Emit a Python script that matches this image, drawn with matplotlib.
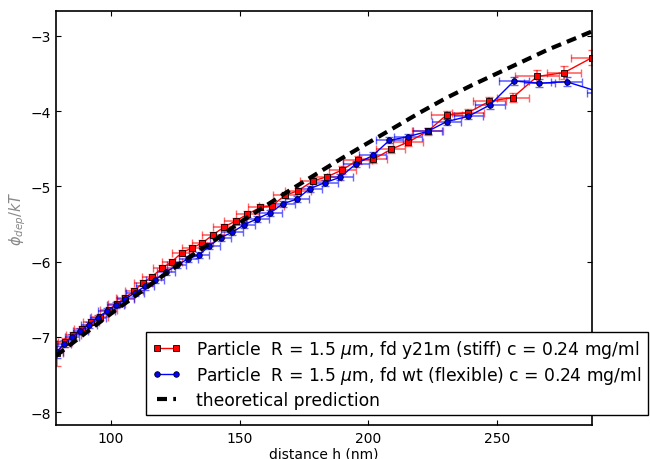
import matplotlib
matplotlib.use('Agg')
import matplotlib.pyplot as plt

# stiff fd (y21m), red squares
h_stiff = [79.0, 82.1, 85.3, 88.6, 92.2, 95.5, 99.0, 102.2, 105.4, 108.9,
           112.3, 115.8, 119.7, 123.6, 127.5, 131.4, 135.5, 139.7, 143.9, 148.4,
           153.0, 157.9, 162.4, 167.6, 172.5, 178.4, 184.1, 189.9, 195.8, 201.9,
           208.7, 215.5, 223.0, 230.4, 238.8, 247.0, 256.1, 265.6, 276.0, 286.9]
phi_stiff = [-7.22, -7.07, -6.98, -6.89, -6.80, -6.73, -6.64, -6.56, -6.48, -6.39,
             -6.28, -6.20, -6.09, -6.00, -5.88, -5.82, -5.75, -5.64, -5.54, -5.46,
             -5.37, -5.28, -5.26, -5.12, -5.06, -4.93, -4.87, -4.78, -4.65, -4.64,
             -4.51, -4.41, -4.27, -4.05, -4.02, -3.87, -3.82, -3.54, -3.49, -3.29]
herr_stiff = [2.5, 2.8, 3.0, 3.0, 3.2, 3.2, 3.3, 3.3, 3.4, 3.5,
              3.5, 3.6, 3.6, 3.8, 3.8, 4.0, 4.0, 4.2, 4.3, 4.5,
              4.5, 4.6, 4.8, 4.8, 5.0, 5.0, 5.2, 5.3, 5.5, 5.5,
              5.7, 5.8, 6.0, 6.0, 6.2, 6.3, 6.3, 8.5, 6.5, 8.0]
perr_stiff = [0.17, 0.06, 0.05, 0.04, 0.04, 0.04, 0.04, 0.04, 0.04, 0.04,
              0.04, 0.04, 0.04, 0.04, 0.04, 0.04, 0.04, 0.04, 0.04, 0.04,
              0.04, 0.04, 0.04, 0.04, 0.04, 0.04, 0.04, 0.05, 0.05, 0.05,
              0.05, 0.05, 0.05, 0.05, 0.05, 0.06, 0.06, 0.08, 0.09, 0.10]

# flexible fd (wt), blue circles
h_flex = [78.8, 81.7, 84.9, 88.1, 91.4, 94.8, 98.3, 101.8, 105.5, 109.3,
          113.2, 117.2, 121.3, 125.5, 130.0, 134.2, 138.2, 142.6, 147.1, 151.7,
          156.8, 161.8, 166.9, 172.1, 177.3, 183.1, 189.0, 195.2, 201.7, 208.1,
          215.3, 223.0, 230.4, 238.8, 247.2, 256.6, 266.4, 277.0, 291.0]
phi_flex = [-7.20, -7.09, -7.00, -6.92, -6.84, -6.75, -6.66, -6.58, -6.50, -6.41,
            -6.33, -6.24, -6.14, -6.05, -5.96, -5.91, -5.79, -5.68, -5.61, -5.51,
            -5.43, -5.35, -5.23, -5.17, -5.03, -4.95, -4.88, -4.70, -4.59, -4.39,
            -4.34, -4.27, -4.14, -4.07, -3.92, -3.60, -3.63, -3.61, -3.76]
herr_flex = [2.5, 2.7, 2.8, 3.0, 3.0, 3.1, 3.2, 3.2, 3.3, 3.4,
             3.4, 3.5, 3.6, 3.7, 3.8, 3.9, 4.0, 4.1, 4.2, 4.3,
             4.4, 4.5, 4.6, 4.7, 4.8, 4.9, 5.0, 5.1, 5.2, 5.3,
             5.4, 5.5, 5.6, 5.7, 5.8, 5.8, 6.0, 6.0, 6.0]
perr_flex = [0.08, 0.05, 0.04, 0.04, 0.04, 0.04, 0.04, 0.04, 0.04, 0.04,
             0.04, 0.04, 0.04, 0.04, 0.04, 0.04, 0.04, 0.04, 0.04, 0.04,
             0.04, 0.04, 0.04, 0.04, 0.04, 0.04, 0.04, 0.04, 0.04, 0.04,
             0.04, 0.04, 0.04, 0.04, 0.05, 0.05, 0.05, 0.06, 0.05]

# theory curve
h_theory = [78.6, 90, 100, 110, 120, 130, 140, 150, 160, 170, 180,
            190, 200, 210, 220, 230, 240, 250, 260, 270, 280, 287]
phi_theory = [-7.25, -6.95, -6.69, -6.44, -6.19, -5.95, -5.72, -5.48, -5.26, -5.04, -4.83,
              -4.62, -4.42, -4.22, -4.02, -3.83, -3.66, -3.50, -3.34, -3.18, -3.04, -2.94]

fig = plt.figure(figsize=(6.5, 4.6), dpi=100)
ax = fig.add_axes([0.0862, 0.0739, 0.8246, 0.9001])

ax.errorbar(h_stiff, phi_stiff, xerr=herr_stiff, yerr=perr_stiff, fmt='none',
            ecolor='red', alpha=0.6, capsize=3, elinewidth=1.2)
ax.errorbar(h_flex, phi_flex, xerr=herr_flex, yerr=perr_flex, fmt='none',
            ecolor='blue', alpha=0.6, capsize=3, elinewidth=1.2)
ax.plot(h_stiff, phi_stiff, 's-', color='red', markersize=4, markerfacecolor='red',
        markeredgecolor='black', markeredgewidth=0.6, lw=1,
        label=r'Particle  R = 1.5 $\mu$m, fd y21m (stiff) c = 0.24 mg/ml')
ax.plot(h_flex, phi_flex, 'o-', color='blue', markersize=4, markerfacecolor='blue',
        markeredgecolor='black', markeredgewidth=0.6, lw=1,
        label=r'Particle  R = 1.5 $\mu$m, fd wt (flexible) c = 0.24 mg/ml')
ax.plot(h_theory, phi_theory, '--', color='black', lw=3, dashes=(2.4, 1.5),
        label='theoretical prediction')

ax.set_xlim(78.6, 286.9)
ax.set_ylim(-8.17, -2.67)
ax.set_xticks([100, 150, 200, 250])
ax.set_yticks([-8, -7, -6, -5, -4, -3])
ax.tick_params(direction='in', top=True, right=True, length=3.5, labelsize=10)
ax.tick_params(axis='x', pad=4.5)
ax.tick_params(axis='y', pad=3.5)
for s in ax.spines.values():
    s.set_linewidth(1.2)

ax.set_xlabel('distance h (nm)', fontsize=10)
ax.xaxis.set_label_coords(0.5, -0.051)
ax.set_ylabel(r'$\phi_{dep}/kT$', fontsize=10.5, color='#888888')
ax.yaxis.set_label_coords(-0.052, 0.5)

ax.legend(loc='lower left', bbox_to_anchor=(0.168, 0.025), borderaxespad=0,
          fontsize=12.3, handlelength=1.7, handletextpad=0.9, numpoints=2,
          fancybox=False, framealpha=1, edgecolor='black',
          labelspacing=0.25, borderpad=0.35)

fig.savefig('out.png', dpi=100)
